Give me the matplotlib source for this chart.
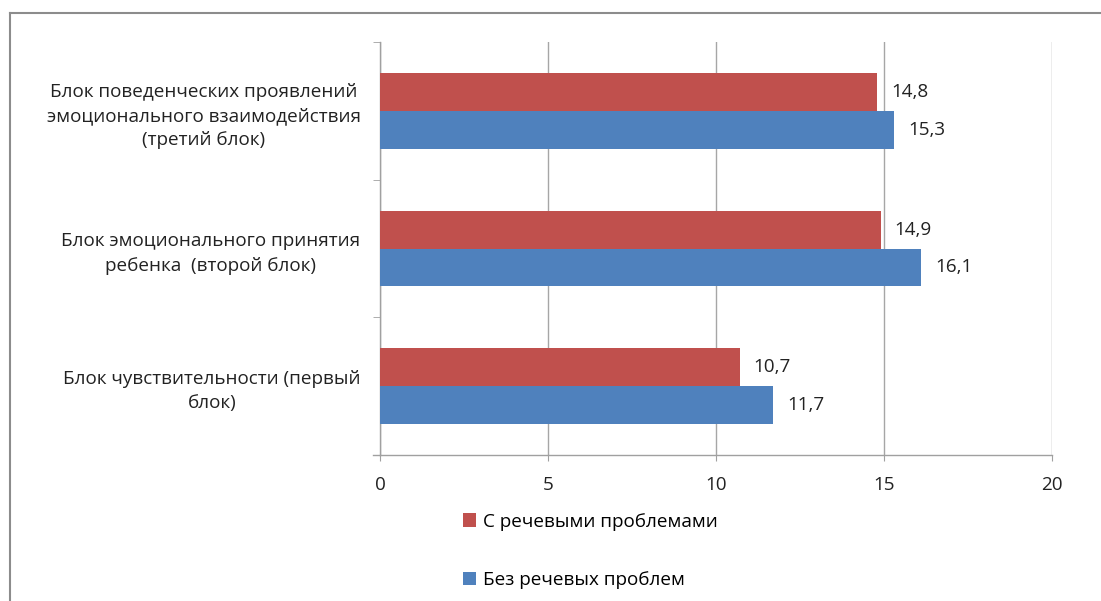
import matplotlib
matplotlib.use("Agg")
import matplotlib.pyplot as plt
from matplotlib.lines import Line2D
import numpy as np

categories = ["Блок чувствительности (первый\nблок)",
              "Блок эмоционального принятия\nребенка  (второй блок)",
              "Блок поведенческих проявлений\nэмоционального взаимодействия\n(третий блок)"]
series_names = ["С речевыми проблемами", "Без речевых проблем"]
with_problems = [10.7, 14.9, 14.8]
without_problems = [11.7, 16.1, 15.3]
x_ticks = [0, 5, 10, 15, 20]

plt.rcParams['font.family'] = ['Open Sans', 'DejaVu Sans']
FS = 13.6
red = "#C0504D"
blue = "#4F81BD"
gray = "#A0A0A0"

fig = plt.figure(figsize=(11.01, 6.01), dpi=100)
ax = fig.add_axes([380/1101, 1-455/601, (1052-380)/1101, (455-42)/601])

y = np.arange(len(categories))
h = 0.276
ax.barh(y - h/2, without_problems, height=h, color=blue, label=series_names[1], zorder=3)
ax.barh(y + h/2, with_problems, height=h, color=red, label=series_names[0], zorder=3)

for yi, v in zip(y, with_problems):
    ax.text(v + 0.42, yi + h/2, f"{v:.1f}".replace(".", ","), va="center", ha="left", fontsize=FS, color="#222222")
for yi, v in zip(y, without_problems):
    ax.text(v + 0.42, yi - h/2, f"{v:.1f}".replace(".", ","), va="center", ha="left", fontsize=FS, color="#222222")

ax.set_xlim(0, 20)
ax.set_ylim(-0.5, 2.5)
ax.set_xticks(x_ticks)
ax.set_xticklabels([str(t) for t in x_ticks], fontsize=FS, color="#222222")
ax.set_yticks(y)
ax.set_yticklabels(categories, fontsize=FS, color="#222222", multialignment="center", linespacing=1.45)
ax.set_yticks([-0.5, 0.5, 1.5, 2.5], minor=True)
ax.tick_params(axis="y", which="major", length=0, pad=14)
ax.tick_params(axis="y", which="minor", length=5, color=gray, direction="out")
ax.tick_params(axis="x", which="major", length=4.5, color=gray, direction="out", pad=10.5)

ax.grid(axis="x", color="#A6A6A6", linewidth=1, zorder=0)
for s in ["top", "right"]:
    ax.spines[s].set_visible(False)
for s in ["left", "bottom"]:
    ax.spines[s].set_color(gray)
    ax.spines[s].set_linewidth(1)

# bottom axis extends a bit left
ax.plot([-0.2, 0], [-0.5, -0.5], color=gray, lw=1, clip_on=False, zorder=4)

handles, labels = ax.get_legend_handles_labels()
leg = fig.legend(handles[::-1], labels[::-1], loc="upper left",
                 bbox_to_anchor=(455/1101, 1-505/601), frameon=False,
                 fontsize=FS, handlelength=0.7, handleheight=0.7,
                 handletextpad=0.4, labelspacing=2.15, borderaxespad=0)

# outer frame
fig.add_artist(Line2D([10/1101, 1.0], [1-13/601, 1-13/601], color="#8C8C8C", lw=1.5, transform=fig.transFigure))
fig.add_artist(Line2D([10/1101, 10/1101], [1-13/601, 0], color="#8C8C8C", lw=1.5, transform=fig.transFigure))

fig.savefig("out.png", dpi=100)
